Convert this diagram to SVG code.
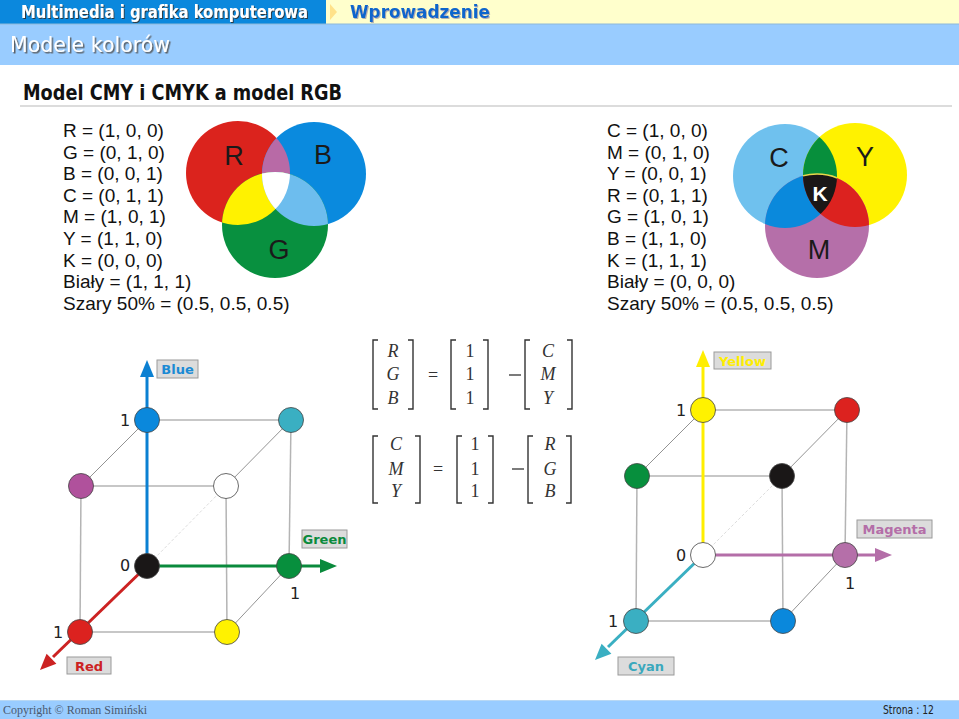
<svg xmlns="http://www.w3.org/2000/svg" width="959" height="719" viewBox="0 0 959 719">
<style>
.hdr{font-family:"DejaVu Sans",Verdana,sans-serif;font-weight:bold}
.txt{font-family:"Liberation Sans",Arial,sans-serif;font-size:19px;fill:#111}
.vl{font-family:"Liberation Sans",Arial,sans-serif;font-size:27px;fill:#1a1a1a}
.edge{stroke:#b4b4b4;stroke-width:1.5;fill:none}
.diag{stroke:#777;stroke-width:0.8;fill:none}
.faint{stroke:#ddd;stroke-width:1;stroke-dasharray:3 2;fill:none}
.nd{stroke:#444;stroke-width:0.8}
.num{font-family:"DejaVu Sans",sans-serif;font-size:16px;fill:#222;text-anchor:middle}
.lbox{fill:#dcdcdc;stroke:#9a9a9a;stroke-width:1}
.ltxt{font-family:"DejaVu Sans",sans-serif;font-weight:bold;font-size:13px;text-anchor:middle}
.mx{font-family:"Liberation Serif","Times New Roman",serif;font-style:italic;font-size:18px;fill:#333;text-anchor:middle}
.m1{font-family:"Liberation Serif","Times New Roman",serif;font-size:18px;fill:#333;text-anchor:middle}
.br{stroke:#333;stroke-width:1.4;fill:none}
</style>
<defs>
<clipPath id="cR"><circle cx="238" cy="173" r="52"/></clipPath>
<clipPath id="cB"><circle cx="314" cy="174" r="52"/></clipPath>
<clipPath id="cC"><circle cx="785" cy="176" r="52"/></clipPath>
<clipPath id="cY"><circle cx="855" cy="175" r="52"/></clipPath>
<filter id="shDark" x="-5%" y="-30%" width="110%" height="160%"><feDropShadow dx="1" dy="1" stdDeviation="0.4" flood-color="#333" flood-opacity="0.9"/></filter>
<filter id="shLight" x="-5%" y="-30%" width="110%" height="160%"><feDropShadow dx="1" dy="1" stdDeviation="0.4" flood-color="#aaa" flood-opacity="0.9"/></filter>
<filter id="shGray" x="-5%" y="-30%" width="110%" height="160%"><feDropShadow dx="1.5" dy="1.5" stdDeviation="0.5" flood-color="#555" flood-opacity="0.9"/></filter>
</defs>

<!-- header -->
<g id="header">
<rect x="0" y="0" width="959" height="24" fill="#ffffcc"/>
<rect x="0" y="0" width="326" height="24" fill="#0b88dd"/>
<polygon points="330,4 337,12 330,20" fill="#ffe28a"/>
<text x="21" y="18" class="hdr" font-size="17" fill="#fff" filter="url(#shDark)" textLength="287" lengthAdjust="spacingAndGlyphs">Multimedia i grafika komputerowa</text>
<text x="350" y="18" class="hdr" font-size="17" fill="#1166cc" filter="url(#shLight)" textLength="140" lengthAdjust="spacingAndGlyphs">Wprowadzenie</text>
<rect x="0" y="24" width="959" height="41" fill="#99ccff"/>
<line x1="0" y1="24" x2="959" y2="24" stroke="#8fb8d8" stroke-width="1"/>
<text x="10" y="52" font-family="DejaVu Sans,Verdana,sans-serif" font-size="21" fill="#fff" filter="url(#shGray)" textLength="160" lengthAdjust="spacingAndGlyphs">Modele kolorów</text>
</g>

<g id="title">
<text x="23" y="100" class="hdr" font-size="22" fill="#111" textLength="319" lengthAdjust="spacingAndGlyphs">Model CMY i CMYK a model RGB</text>
<line x1="20" y1="106" x2="952" y2="106" stroke="#dcdcdc" stroke-width="2"/>
</g>

<!-- RGB text -->
<g id="rgb-text" class="txt">
<text x="63" y="137">R = (1, 0, 0)</text>
<text x="63" y="158.6">G = (0, 1, 0)</text>
<text x="63" y="180.2">B = (0, 0, 1)</text>
<text x="63" y="201.8">C = (0, 1, 1)</text>
<text x="63" y="223.4">M = (1, 0, 1)</text>
<text x="63" y="245">Y = (1, 1, 0)</text>
<text x="63" y="266.6">K = (0, 0, 0)</text>
<text x="63" y="288.2">Biały = (1, 1, 1)</text>
<text x="63" y="309.8">Szary 50% = (0.5, 0.5, 0.5)</text>
</g>

<!-- RGB venn -->
<g id="rgb-venn">
<circle cx="238" cy="173" r="52" fill="#db231d"/>
<circle cx="314" cy="174" r="52" fill="#0a8ade"/>
<circle cx="275" cy="225" r="53" fill="#08903f"/>
<circle cx="314" cy="174" r="52" fill="#b86aa6" clip-path="url(#cR)"/>
<circle cx="275" cy="225" r="53" fill="#fff200" clip-path="url(#cR)"/>
<circle cx="275" cy="225" r="53" fill="#6dbdee" clip-path="url(#cB)"/>
<g clip-path="url(#cB)"><circle cx="275" cy="225" r="53" fill="#ffffff" clip-path="url(#cR)"/></g>
<text x="234" y="165" class="vl" text-anchor="middle">R</text>
<text x="323" y="164" class="vl" text-anchor="middle">B</text>
<text x="279" y="259" class="vl" text-anchor="middle">G</text>
</g>

<!-- CMY text -->
<g id="cmy-text" class="txt">
<text x="607" y="137">C = (1, 0, 0)</text>
<text x="607" y="158.6">M = (0, 1, 0)</text>
<text x="607" y="180.2">Y = (0, 0, 1)</text>
<text x="607" y="201.8">R = (0, 1, 1)</text>
<text x="607" y="223.4">G = (1, 0, 1)</text>
<text x="607" y="245">B = (1, 1, 0)</text>
<text x="607" y="266.6">K = (1, 1, 1)</text>
<text x="607" y="288.2">Biały = (0, 0, 0)</text>
<text x="607" y="309.8">Szary 50% = (0.5, 0.5, 0.5)</text>
</g>

<!-- CMY venn -->
<g id="cmy-venn">
<circle cx="785" cy="176" r="52" fill="#6fc1ee"/>
<circle cx="855" cy="175" r="52" fill="#fff200"/>
<circle cx="817" cy="226" r="52" fill="#b56fa9"/>
<circle cx="855" cy="175" r="52" fill="#078f3c" clip-path="url(#cC)"/>
<circle cx="817" cy="226" r="52" fill="#0a89dc" clip-path="url(#cC)"/>
<circle cx="817" cy="226" r="52" fill="#dc221f" clip-path="url(#cY)"/>
<g clip-path="url(#cY)"><circle cx="817" cy="226" r="52" fill="#1b1717" stroke="#e8d84a" stroke-width="1.5" clip-path="url(#cC)"/></g>
<text x="779" y="167" class="vl" text-anchor="middle">C</text>
<text x="865" y="166" class="vl" text-anchor="middle">Y</text>
<text x="819" y="259" class="vl" text-anchor="middle">M</text>
<text x="820" y="201" font-family="Liberation Sans,Arial,sans-serif" font-weight="bold" font-size="21" fill="#fff" text-anchor="middle">K</text>
</g>

<!-- Left cube connectors -->
<g id="rgb-cube-edges">
<line class="edge" x1="147" y1="420" x2="291" y2="420"/>
<line class="edge" x1="81" y1="486" x2="226" y2="486"/>
<line class="edge" x1="80" y1="632" x2="227" y2="632"/>
<line class="edge" x1="81" y1="486" x2="80" y2="632"/>
<line class="edge" x1="226" y1="486" x2="227" y2="632"/>
<line class="edge" x1="291" y1="420" x2="289" y2="566"/>
<line class="diag" x1="147" y1="420" x2="81" y2="486"/>
<line class="diag" x1="291" y1="420" x2="226" y2="486"/>
<line class="diag" x1="289" y1="566" x2="227" y2="632"/>
<line class="faint" x1="147" y1="566" x2="226" y2="486"/>
<line x1="147" y1="566" x2="147" y2="374" stroke="#0b80d2" stroke-width="3"/>
<polygon points="147,360 140,377 154,377" fill="#0b80d2"/>
<line x1="147" y1="566" x2="322" y2="566" stroke="#0a8a3c" stroke-width="3"/>
<polygon points="337,566 320,559 320,573" fill="#0a8a3c"/>
<line x1="147" y1="566" x2="53" y2="657" stroke="#cc2222" stroke-width="3"/>
<polygon points="40,670 56.4,663.8 46.6,653.8" fill="#cc2222"/>
</g>

<g id="rgb-node-blue"><circle class="nd" cx="147" cy="420" r="12.5" fill="#0a88dc"/></g>
<g id="rgb-node-cyan"><circle class="nd" cx="291" cy="420" r="12.5" fill="#3aafc2"/></g>
<g id="rgb-node-magenta"><circle class="nd" cx="81" cy="486" r="12.5" fill="#b0519c"/></g>
<g id="rgb-node-white"><circle class="nd" cx="226" cy="486" r="12.5" fill="#ffffff"/></g>
<g id="rgb-node-black"><circle class="nd" cx="147" cy="566" r="12.5" fill="#1a1717"/></g>
<g id="rgb-node-green"><circle class="nd" cx="289" cy="566" r="12.5" fill="#078f3d"/></g>
<g id="rgb-node-red"><circle class="nd" cx="80" cy="632" r="12.5" fill="#dc221f"/></g>
<g id="rgb-node-yellow"><circle class="nd" cx="227" cy="632" r="12.5" fill="#fff200"/></g>

<g id="rgb-cube-labels">
<text class="num" x="125" y="426">1</text>
<text class="num" x="125" y="571">0</text>
<text class="num" x="295" y="599">1</text>
<text class="num" x="58" y="638">1</text>
<rect class="lbox" x="157" y="360" width="41" height="18"/>
<text class="ltxt" x="177.5" y="374" fill="#1a8ad4">Blue</text>
<rect class="lbox" x="302" y="530" width="45" height="18"/>
<text class="ltxt" x="324.5" y="544" fill="#0a8a3c">Green</text>
<rect class="lbox" x="67" y="657" width="44" height="17"/>
<text class="ltxt" x="89" y="671" fill="#cc2222">Red</text>
</g>

<!-- Matrices -->
<g id="matrix-rgb">
<path class="br" d="M378,340 H373 V409 H378"/>
<path class="br" d="M408,340 H413 V409 H408"/>
<text class="mx" x="393" y="357">R</text>
<text class="mx" x="393" y="380">G</text>
<text class="mx" x="393" y="404">B</text>
<text class="m1" x="433" y="381" fill="#aaa">=</text>
<path class="br" d="M456,340 H451 V409 H456"/>
<path class="br" d="M483,340 H488 V409 H483"/>
<text class="m1" x="470" y="357">1</text>
<text class="m1" x="470" y="380">1</text>
<text class="m1" x="470" y="404">1</text>
<line x1="509" y1="375" x2="521" y2="375" stroke="#333" stroke-width="1.3"/>
<path class="br" d="M530,340 H525 V409 H530"/>
<path class="br" d="M567,340 H572 V409 H567"/>
<text class="mx" x="548" y="357">C</text>
<text class="mx" x="548" y="380">M</text>
<text class="mx" x="548" y="404">Y</text>
</g>
<g id="matrix-cmy">
<path class="br" d="M378,436 H373 V503 H378"/>
<path class="br" d="M415,436 H420 V503 H415"/>
<text class="mx" x="396" y="450">C</text>
<text class="mx" x="396" y="475">M</text>
<text class="mx" x="396" y="497">Y</text>
<text class="m1" x="438" y="475" fill="#aaa">=</text>
<path class="br" d="M462,436 H457 V503 H462"/>
<path class="br" d="M488,436 H493 V503 H488"/>
<text class="m1" x="475" y="450">1</text>
<text class="m1" x="475" y="475">1</text>
<text class="m1" x="475" y="497">1</text>
<line x1="512" y1="469" x2="524" y2="469" stroke="#333" stroke-width="1.3"/>
<path class="br" d="M533,436 H528 V503 H533"/>
<path class="br" d="M566,436 H571 V503 H566"/>
<text class="mx" x="550" y="450">R</text>
<text class="mx" x="550" y="475">G</text>
<text class="mx" x="550" y="497">B</text>
</g>

<!-- Right cube connectors -->
<g id="cmy-cube-edges">
<line class="edge" x1="703" y1="410" x2="847" y2="410"/>
<line class="edge" x1="637" y1="476" x2="782" y2="476"/>
<line class="edge" x1="636" y1="621" x2="783" y2="621"/>
<line class="edge" x1="637" y1="476" x2="636" y2="621"/>
<line class="edge" x1="782" y1="476" x2="783" y2="621"/>
<line class="edge" x1="847" y1="410" x2="845" y2="555"/>
<line class="diag" x1="703" y1="410" x2="637" y2="476"/>
<line class="diag" x1="847" y1="410" x2="782" y2="476"/>
<line class="diag" x1="845" y1="555" x2="783" y2="621"/>
<line class="faint" x1="703" y1="555" x2="782" y2="476"/>
<line x1="703" y1="555" x2="703" y2="364" stroke="#ffee00" stroke-width="3"/>
<polygon points="703,350 696,367 710,367" fill="#ffee00"/>
<line x1="703" y1="555" x2="877" y2="555" stroke="#b46ea8" stroke-width="3"/>
<polygon points="892,555 875,548 875,562" fill="#b46ea8"/>
<line x1="703" y1="555" x2="608" y2="647" stroke="#3aafc2" stroke-width="3"/>
<polygon points="595,660 611.4,653.8 601.6,643.8" fill="#3aafc2"/>
</g>

<g id="cmy-node-yellow"><circle class="nd" cx="703" cy="410" r="12.5" fill="#fff200"/></g>
<g id="cmy-node-red"><circle class="nd" cx="847" cy="410" r="12.5" fill="#dc221f"/></g>
<g id="cmy-node-green"><circle class="nd" cx="637" cy="476" r="12.5" fill="#078f3d"/></g>
<g id="cmy-node-black"><circle class="nd" cx="782" cy="476" r="12.5" fill="#1a1717"/></g>
<g id="cmy-node-white"><circle class="nd" cx="703" cy="555" r="12.5" fill="#ffffff"/></g>
<g id="cmy-node-magenta"><circle class="nd" cx="845" cy="555" r="12.5" fill="#b56fa9"/></g>
<g id="cmy-node-cyan"><circle class="nd" cx="636" cy="621" r="12.5" fill="#3aafc2"/></g>
<g id="cmy-node-blue"><circle class="nd" cx="783" cy="621" r="12.5" fill="#0a88dc"/></g>

<g id="cmy-cube-labels">
<text class="num" x="681" y="416">1</text>
<text class="num" x="681" y="561">0</text>
<text class="num" x="850" y="589">1</text>
<text class="num" x="613" y="627">1</text>
<rect class="lbox" x="714" y="352" width="57" height="17"/>
<text class="ltxt" x="742.5" y="366" fill="#ffee00">Yellow</text>
<rect class="lbox" x="857" y="520" width="75" height="18"/>
<text class="ltxt" x="894.5" y="534" fill="#b46ea8">Magenta</text>
<rect class="lbox" x="618" y="657" width="56" height="18"/>
<text class="ltxt" x="646" y="671" fill="#3aa8bd">Cyan</text>
</g>

<!-- footer -->
<g id="footer">
<rect x="0" y="700" width="959" height="19" fill="#99ccff"/>
<line x1="0" y1="700.5" x2="959" y2="700.5" stroke="#b8d8f4" stroke-width="1"/>
<text x="3" y="714" font-family="Liberation Serif,Times New Roman,serif" font-size="13" fill="#4a5a70" textLength="144" lengthAdjust="spacingAndGlyphs">Copyright © Roman Simiński</text>
<text x="883" y="714" font-family="DejaVu Sans Condensed,DejaVu Sans,sans-serif" font-size="12" fill="#222" textLength="51" lengthAdjust="spacingAndGlyphs">Strona : 12</text>
</g>
</svg>
